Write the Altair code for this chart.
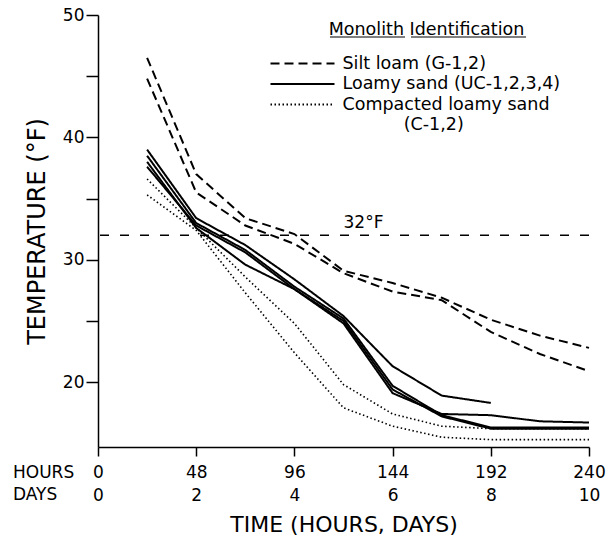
import altair as alt
import pandas as pd

# ---------------- data ----------------
hours = [24, 48, 72, 96, 120, 144, 168, 192, 216, 240]

g1 = [46.5, 37.0, 33.4, 32.1, 29.1, 28.1, 26.9, 25.1, 23.8, 22.8]
g2 = [44.8, 35.5, 32.8, 31.3, 28.9, 27.4, 26.7, 24.1, 22.3, 20.9]
uc1 = [39.0, 33.4, 31.2, 28.4, 25.4, 21.3, 18.9, 18.3]
uc2 = [38.0, 32.6, 29.6, 27.6, 24.8, 19.1, 17.4, 17.3, 16.8, 16.7]
uc3 = [38.5, 33.0, 30.8, 27.8, 25.2, 19.7, 17.3, 16.3, 16.3, 16.3]
uc4 = [37.6, 32.8, 30.6, 27.6, 25.0, 19.4, 17.2, 16.2, 16.2, 16.2]
c1 = [36.6, 32.6, 28.6, 24.8, 19.8, 17.4, 16.4, 16.2, 16.2, 16.2]
c2 = [35.3, 32.4, 27.3, 22.4, 17.9, 16.4, 15.5, 15.3, 15.3, 15.3]

group_labels = ["Silt loam (G-1,2)", "Loamy sand (UC-1,2,3,4)",
                "Compacted loamy sand", "(C-1,2)"]
series_names = ["G-1", "G-2", "UC-1", "UC-2", "UC-3", "UC-4", "C-1", "C-2"]
series_values = [g1, g2, uc1, uc2, uc3, uc4, c1, c2]
series_groups = [group_labels[0]] * 2 + [group_labels[1]] * 4 + [group_labels[2]] * 2

freezing_temp = [32]
freezing_label = ["32°F"]
freezing_label_hour = [120]

hour_ticks = [0, 48, 96, 144, 192, 240]
hour_labels = ["0", "48", "96", "144", "192", "240"]
day_labels = ["0", "2", "4", "6", "8", "10"]
temp_ticks = [20, 25, 30, 35, 40, 45, 50]

# ---------------- tables ----------------
rows = []
for name, vals, grp in zip(series_names, series_values, series_groups):
    for h, v in zip(hours, vals):
        rows.append({"series": name, "group": grp, "hour": h, "temp": v})
df = pd.DataFrame(rows)
df_solid = df[df["group"] != group_labels[2]]
df_dot = df[df["group"] == group_labels[2]]

FONT = "DejaVu Sans"
# zero-width space first so the indent survives Vega's text trimming
INDENT = "\u200b" + "\u00a0" * 11

x_expr = " : ".join(
    f"datum.value == {h} ? ['{hl}', '{dl}']" for h, hl, dl in zip(hour_ticks, hour_labels, day_labels)
) + " : ''"

x_enc = alt.X(
    "hour:Q",
    scale=alt.Scale(domain=[0, 240], nice=False, zero=False),
    axis=alt.Axis(
        values=hour_ticks, labelExpr=x_expr, title="TIME (HOURS, DAYS)",
        tickSize=9, labelPadding=8, labelFontSize=17, labelLineHeight=23,
        labelFlush=False, labelOverlap=False, labelBaseline="top",
        titleFontSize=22, titlePadding=11,
    ),
)
y_enc = alt.Y(
    "temp:Q",
    scale=alt.Scale(domain=[14.7, 50], nice=False, zero=False),
    axis=alt.Axis(
        values=temp_ticks, labelExpr="datum.value % 10 == 0 ? datum.label : ''",
        title="TEMPERATURE (°F)", tickSize=12, labelPadding=2, labelFontSize=17,
        titleFontSize=24, titlePadding=13,
    ),
)

dash_scale = alt.Scale(domain=group_labels,
                       range=[[9, 5], [1, 0], [1.5, 2.5], [0, 100]])
legend = alt.Legend(
    title="Monolith Identification", orient="none", legendX=195.5, legendY=6,
    direction="vertical", symbolType="M-4,0H4", symbolSize=256,
    symbolStrokeWidth=2, symbolStrokeColor="black", labelOffset=31,
    labelFontSize=17.5, titleFontSize=17.5, titleFontWeight="normal",
    titleAnchor="middle", titleAlign="center", titlePadding=16, titleLimit=500,
    rowPadding=2.5, labelLimit=500, padding=0,
    labelExpr=f"datum.label == '(C-1,2)' ? '{INDENT}(C-1,2)' : datum.label",
)

lines_solid = alt.Chart(df_solid).mark_line(color="black", strokeWidth=2).encode(
    x=x_enc, y=y_enc, detail="series:N",
    strokeDash=alt.StrokeDash("group:N", scale=dash_scale, legend=legend),
)
lines_dot = alt.Chart(df_dot).mark_line(color="black", strokeWidth=1.6).encode(
    x="hour:Q", y="temp:Q", detail="series:N",
    strokeDash=alt.StrokeDash("group:N", scale=dash_scale, legend=legend),
)

rule = alt.Chart(pd.DataFrame({"temp": freezing_temp})).mark_rule(
    color="black", strokeWidth=1.5, strokeDash=[9, 11]
).encode(y="temp:Q")

label = alt.Chart(pd.DataFrame({"hour": freezing_label_hour, "temp": freezing_temp,
                                "label": freezing_label})).mark_text(
    align="left", baseline="bottom", dy=-3, fontSize=17, font=FONT, color="black"
).encode(x="hour:Q", y="temp:Q", text="label:N")

hours_head = alt.Chart(pd.DataFrame({"t": ["HOURS"]})).mark_text(
    align="left", baseline="middle", fontSize=17, font=FONT, color="black"
).encode(x=alt.value(-85), y=alt.value(458), text="t:N")
days_head = alt.Chart(pd.DataFrame({"t": ["DAYS"]})).mark_text(
    align="left", baseline="middle", fontSize=17, font=FONT, color="black"
).encode(x=alt.value(-85), y=alt.value(480), text="t:N")

underline1 = alt.Chart(pd.DataFrame({"u": [1]})).mark_rule(color="black", strokeWidth=1.2).encode(
    x=alt.value(232), x2=alt.value(307), y=alt.value(22))
underline2 = alt.Chart(pd.DataFrame({"u": [1]})).mark_rule(color="black", strokeWidth=1.2).encode(
    x=alt.value(313), x2=alt.value(428), y=alt.value(22))

chart = alt.layer(
    rule, lines_solid, lines_dot, label, hours_head, days_head, underline1, underline2
).properties(
    width=491, height=432,
    autosize=alt.AutoSizeParams(type="none"),
    padding={"left": 98, "top": 15, "right": 20, "bottom": 93},
    background="white",
).configure(font=FONT).configure_view(stroke=None).configure_axis(
    domainColor="black", domainWidth=1.5, tickColor="black", tickWidth=1.5,
    labelColor="black", titleColor="black", grid=False,
    titleFontWeight="normal", labelFont=FONT, titleFont=FONT,
).configure_legend(labelColor="black", titleColor="black", labelFont=FONT, titleFont=FONT)

chart.save("out.html", embed_options={"renderer": "svg", "actions": False})
